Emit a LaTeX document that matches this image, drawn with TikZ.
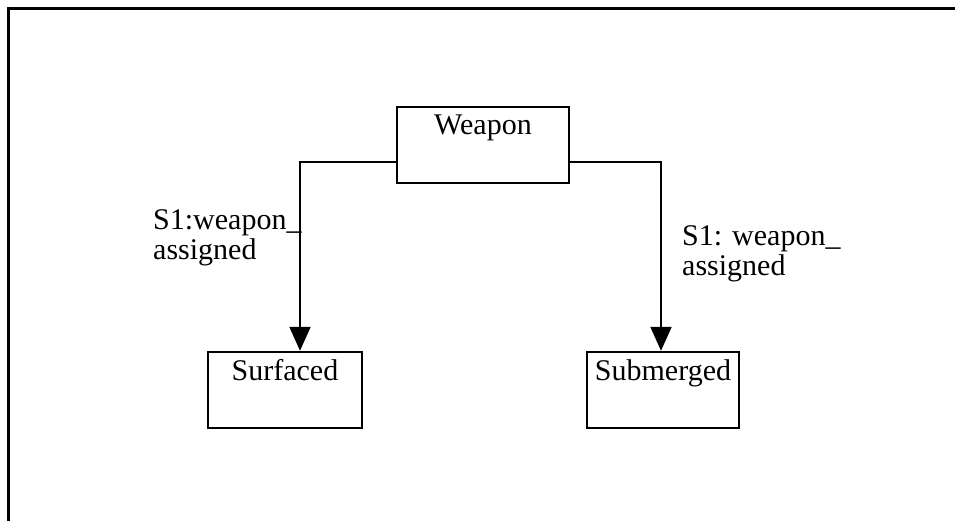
\documentclass[tikz,border=0pt]{standalone}
\usepackage{fontspec}
\setmainfont{Liberation Serif}
\usetikzlibrary{arrows.meta, positioning}
\tikzset{
    statebox/.style={draw, line width=2.4pt, rectangle, inner xsep=0pt, inner ysep=4pt,
        text height=24pt, text depth=44pt, font=\fontsize{30}{30}\selectfont},
    flow/.style={line width=2pt, -{Triangle[length=24pt, width=21pt]}},
    guard/.style={align=left, inner sep=0pt, anchor=base west, font=\fontsize{30}{30}\selectfont}
}

\begin{document}
\begin{tikzpicture}[x=1pt, y=-1pt]
        \useasboundingbox (0,0) rectangle (955,521);

        % Frame
        \draw[line width=3pt] (955,9) -- (8.5,9) -- (8.5,521);

        % States
        \node[statebox, minimum width=172pt] (weapon) at (483,145) {Weapon};
        \node[statebox, minimum width=154pt] (surfaced) at (285,390) {Surfaced};
        \node[statebox, minimum width=152pt] (submerged) at (663,390) {Submerged};

        % Transitions
        \draw[flow] ([yshift=-17pt]weapon.west) -| ([xshift=15pt]surfaced.north);
        \draw[flow] ([yshift=-17pt]weapon.east) -| ([xshift=-2pt]submerged.north);

        % Labels
        \node[guard] (leftguard) at (153,259) {S1:weapon\_\\assigned};
        \node[guard] (rightguard) at (682,276) {S1: weapon\_\\assigned};
    \end{tikzpicture}
\end{document}
